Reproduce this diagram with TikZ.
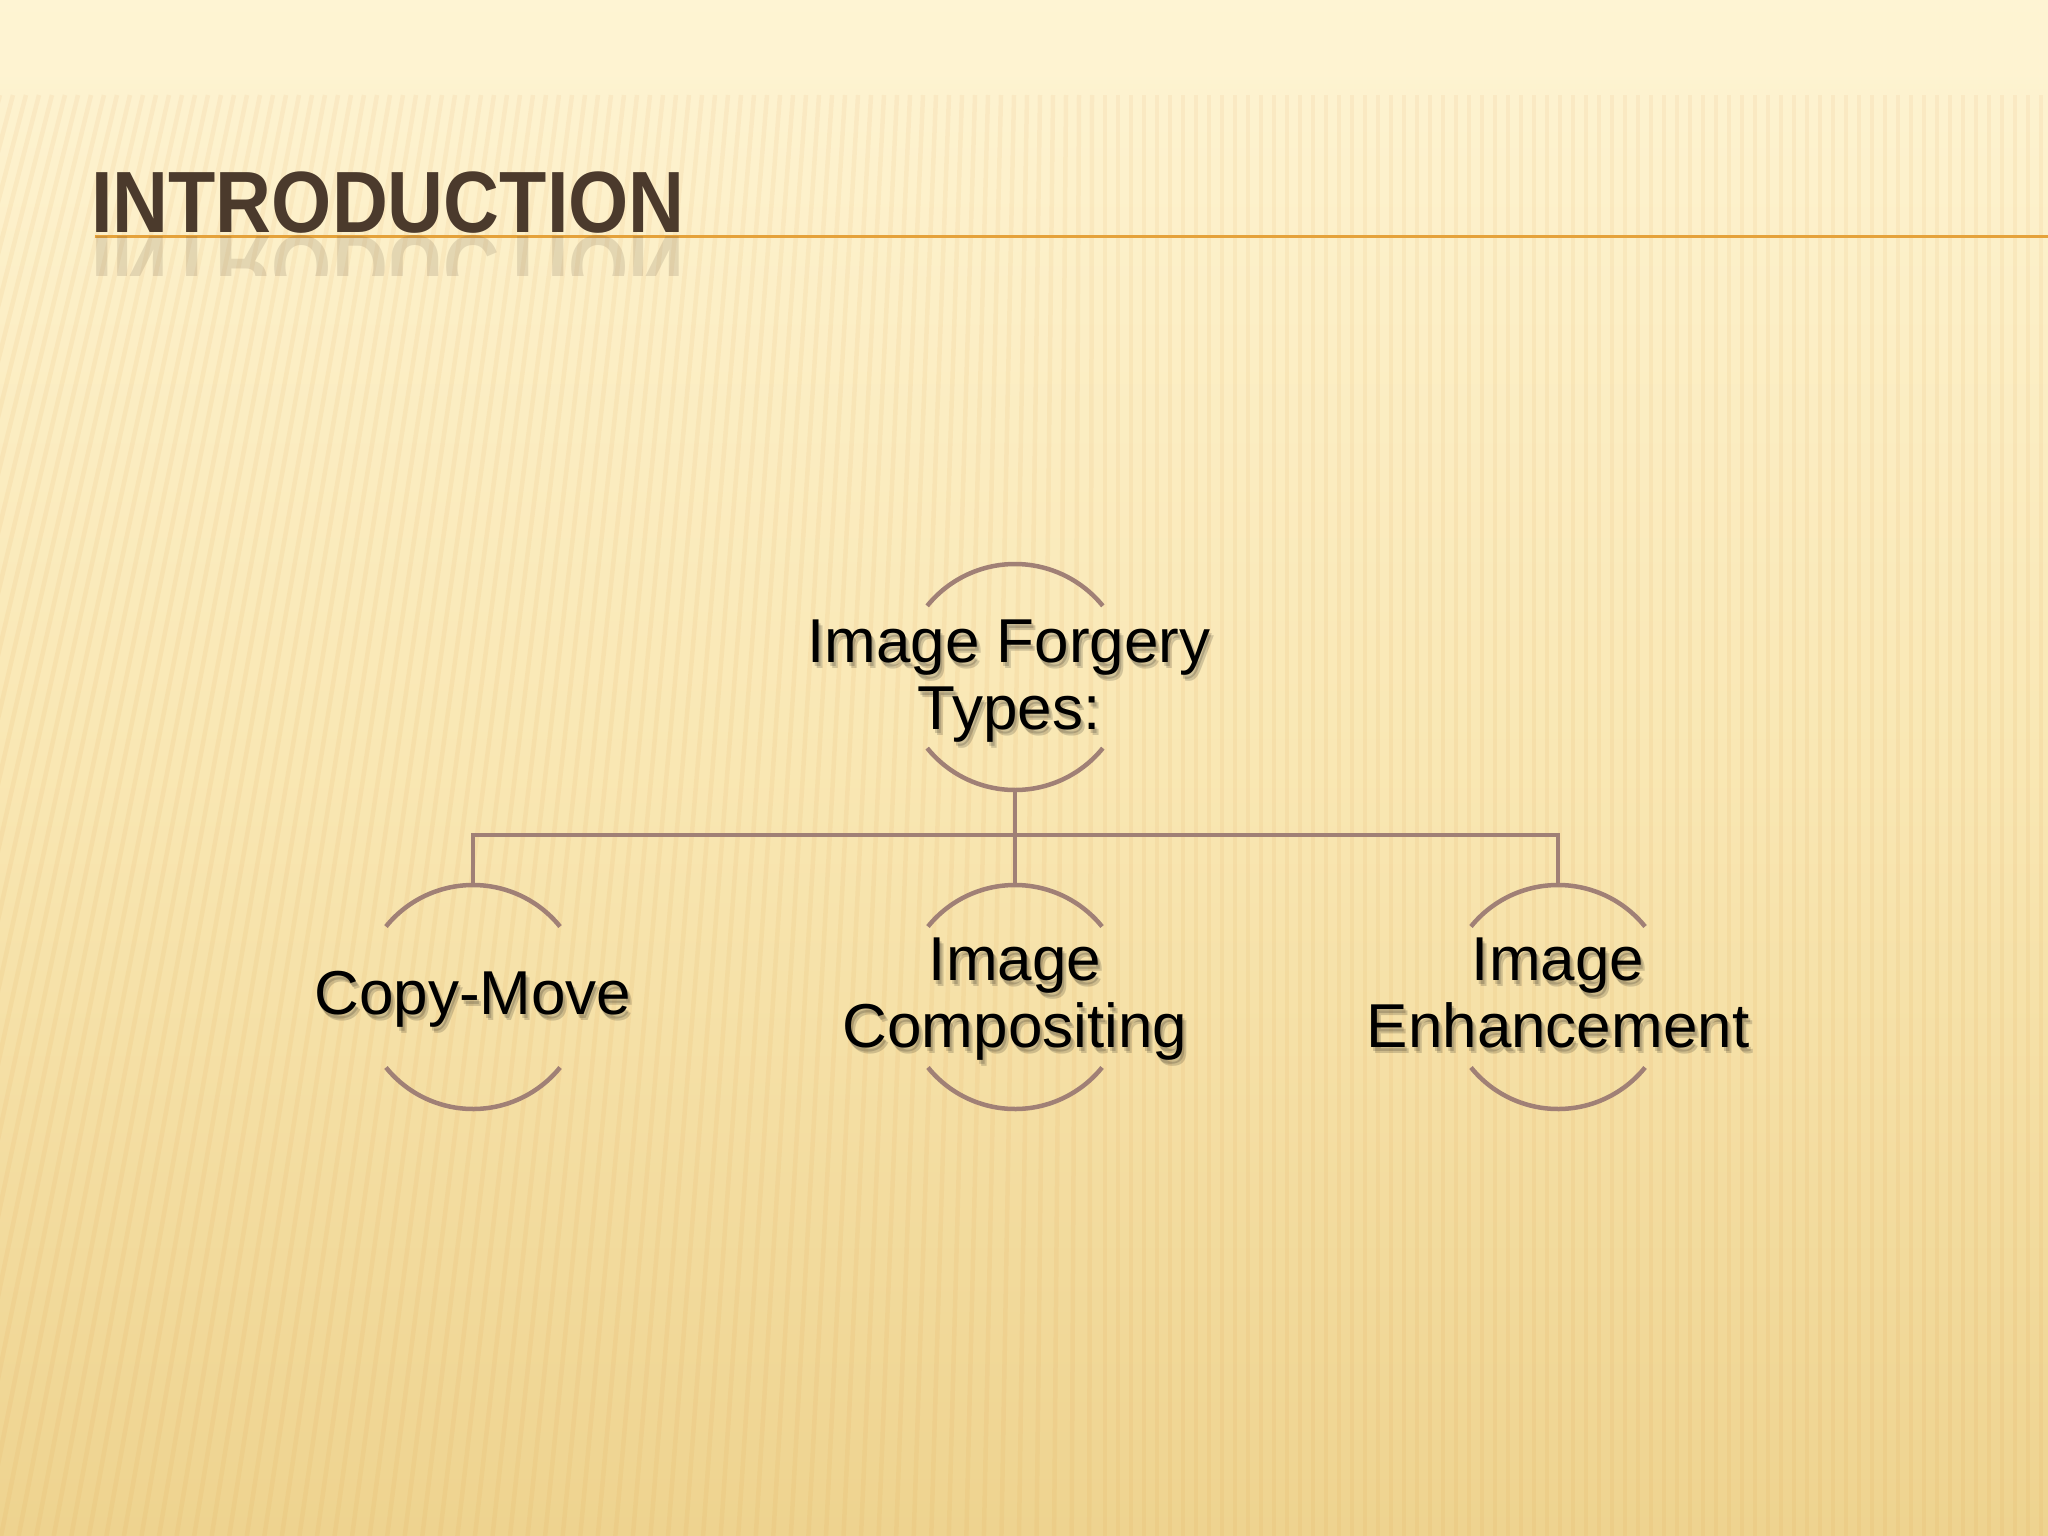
\documentclass[tikz,border=0pt]{standalone}
\usepackage{fontspec}
\setmainfont{Liberation Sans}
\newfontfamily\titlefont[FakeStretch=0.89]{Liberation Sans}
\usetikzlibrary{calc}
\definecolor{bgtop}{HTML}{FEF4D3}
\definecolor{bgmid}{HTML}{F9E7B3}
\definecolor{bgbot}{HTML}{EED38F}
\definecolor{titlebrown}{HTML}{4B3A2C}
\definecolor{rulecol}{HTML}{E5A23A}
\definecolor{arccol}{HTML}{A08076}
\tikzset{
  arcline/.style={draw=arccol, line width=4.5pt, line cap=butt},
  conn/.style={draw=arccol, line width=4.5pt},
  lbl/.style={align=center, text=black, inner sep=0pt, font=\fontsize{62}{67}\selectfont},
  shadowlbl/.style={lbl, text=black, text opacity=0.16},
  titletext/.style={anchor=base west, inner sep=0pt, text=titlebrown, font=\titlefont\bfseries\fontsize{87}{87}\selectfont},
}
\newcommand{\arcpair}[2]{%
  \draw[arcline] ($(#1)+(219:#2)$) arc[start angle=219, end angle=321, radius=#2];
  \draw[arcline] ($(#1)+(39:#2)$) arc[start angle=39, end angle=141, radius=#2];
}
\newcommand{\shadowtext}[3]{%
  \node[shadowlbl] at ($(#1)+(2,4)$) {#3};
  \node[shadowlbl] at ($(#1)+(4,6)$) {#3};
  \node[lbl] (#2) at (#1) {#3};
}
\begin{document}
\begin{tikzpicture}[x=1pt, y=-1pt]
\useasboundingbox (0,0) rectangle (2048,1536);
% background
\shade[top color=bgtop, bottom color=bgbot, middle color=bgmid] (0,0) rectangle (2048,1536);
\fill[bgtop, opacity=0.6] (0,0) rectangle (2048,80);
% faint stripes
\foreach \x in {0,13,...,2060}{
  \pgfmathsetmacro{\sl}{max(0,(1100-\x))*0.35}
  \draw[line width=4.5pt, draw=brown!60!orange, opacity=0.07] (\x,95) -- (\x-\sl,1536);
}
% title
\draw[draw=rulecol, line width=3pt] (95,236) -- (2048,236);
\node[titletext] (title) at (91,232) {INTRODUCTION};
\begin{scope}
  \clip (80,234) rectangle (700,275);
  \begin{scope}[shift={(0,236)}]
    \node[titletext, yscale=-1, transform shape, opacity=0.14] (titlerefl) at (91,0) {INTRODUCTION};
  \end{scope}
\end{scope}
% centres
\coordinate (c0) at (1015,677);
\coordinate (c1) at (473,997);
\coordinate (c2) at (1015,997);
\coordinate (c3) at (1558,997);
\coordinate (bus) at (0,835);
% arcs
\arcpair{c0}{113}
\arcpair{c1}{112}
\arcpair{c2}{112}
\arcpair{c3}{112}
\coordinate (rootb) at ($(c0)+(0,113)$);
\coordinate (n1top) at ($(c1)+(0,-112)$);
\coordinate (n2top) at ($(c2)+(0,-112)$);
\coordinate (n3top) at ($(c3)+(0,-112)$);
% connectors
\draw[conn] (rootb) -- (n2top);
\draw[conn] (n1top) -- (n1top |- bus) -- (n3top |- bus) -- (n3top);
% labels
\shadowtext{$(c0)+(-6,4)$}{root}{Image Forgery\\Types:}
\shadowtext{$(c1)+(0,2)$}{copymove}{Copy-Move}
\shadowtext{$(c2)+(0,2)$}{compositing}{Image\\Compositing}
\shadowtext{$(c3)+(0,-4)$}{enhancement}{Image\\Enhancement}
\end{tikzpicture}
\end{document}
